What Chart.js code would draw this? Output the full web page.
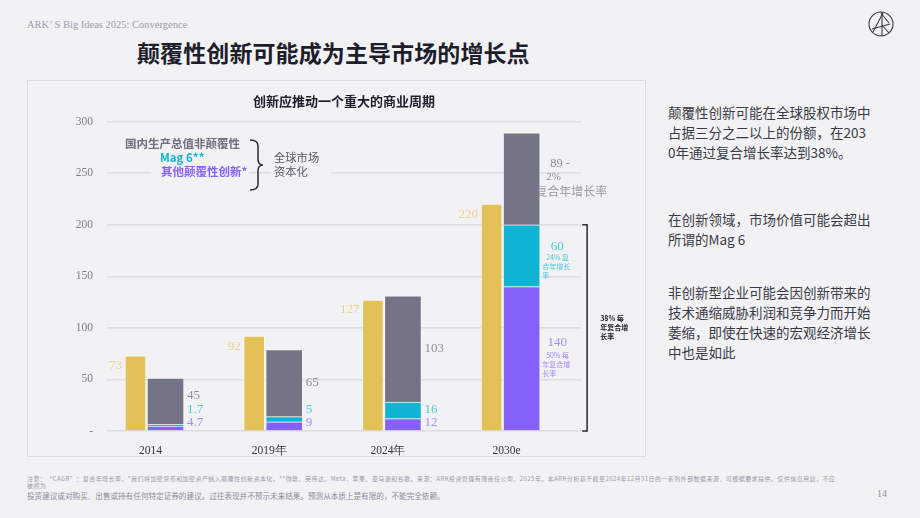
<!DOCTYPE html>
<html>
<head>
<meta charset="utf-8">
<script src="https://cdn.jsdelivr.net/npm/chart.js@4.4.1/dist/chart.umd.min.js"></script>
<style>
  body { margin: 0; width: 920px; height: 518px; background: #f2f2f5; position: relative; overflow: hidden;
         font-family: "Noto Sans CJK SC", "Noto Sans", sans-serif; }
  .abs { position: absolute; white-space: nowrap; }
  #hdr { left: 27px; top: 19px; font: 10.5px "Liberation Serif", serif; color: #9c9ca8; }
  #title { left: 137px; top: 35px; font-size: 23px; font-weight: 700; color: #1d1d2b; letter-spacing: 0.1px; }
  #panel { left: 27px; top: 80px; width: 617px; height: 375px; border: 1px solid #dcdce1; }
  #wrap { left: 27px; top: 80px; width: 618px; height: 376px; }
  .side { left: 668px; font-size: 13.5px; line-height: 20px; color: #3a3a46; }
  #note1 { left: 27px; top: 475px; font-size: 6px; line-height: 7px; letter-spacing: 0.44px; color: #9a9aa6; }
  #note2 { left: 27px; top: 490px; font-size: 7.6px; color: #8c8c98; }
  #page { left: 877px; top: 488px; font: 10px "Liberation Serif", serif; color: #8e8e9c; }
</style>
</head>
<body>
<div class="abs" id="hdr">ARK’ S Big Ideas 2025: Convergence</div>
<div class="abs" id="title">颠覆性创新可能成为主导市场的增长点</div>
<svg class="abs" style="left:868px;top:11px" width="26" height="26" viewBox="0 0 26 26">
  <g fill="none" stroke="#3a3a46" stroke-width="1.1">
    <circle cx="13" cy="13" r="12"/>
    <line x1="14" y1="1" x2="14" y2="25"/>
    <line x1="5" y1="21" x2="15" y2="2"/>
    <line x1="13" y1="2" x2="21" y2="12"/>
    <line x1="4" y1="18" x2="22" y2="13"/>
    <line x1="14" y1="14" x2="21" y2="22"/>
  </g>
</svg>
<div class="abs" id="panel"></div>
<div class="abs" id="wrap"><canvas id="chart" width="618" height="376"></canvas></div>

<div class="abs side" style="top:102px">颠覆性创新可能在全球股权市场中<br>占据三分之二以上的份额，在203<br>0年通过复合增长率达到38%。</div>
<div class="abs side" style="top:209px">在创新领域，市场价值可能会超出<br>所谓的Mag 6</div>
<div class="abs side" style="top:282px">非创新型企业可能会因创新带来的<br>技术通缩威胁利润和竞争力而开始<br>萎缩，即使在快速的宏观经济增长<br>中也是如此</div>

<div class="abs" id="note1">注意：“CAGR”：复合年增长率。*我们将加密货币和加密资产纳入颠覆性创新资本化。**微软、英伟达、Meta、苹果、亚马逊和谷歌。来源：ARK投资管理有限责任公司，2025年。本ARK分析基于截至2024年12月31日的一系列外部数据来源，可根据要求提供。仅供信息用途，不应<br>被视为</div>
<div class="abs" id="note2">投资建议或对购买、出售或持有任何特定证券的建议。过往表现并不预示未来结果。预测从本质上是有限的，不能完全依赖。</div>
<div class="abs" id="page">14</div>

<script>
// 数据（万亿美元）
const years = ['2014', '2019年', '2024年', '2030e'];
const gdp = [73, 92, 127, 220];
const otherDisruptive = [4.7, 9, 12, 140];
const mag6 = [1.7, 5, 16, 60];
const nonDisruptive = [45, 65, 103, 89];
const yTicks = [0, 50, 100, 150, 200, 250, 300];

const GOLD = '#e2c256', GREY = '#737586', CYAN = '#10b4d3', PURPLE = '#8662fc';
const SERIF = '"Liberation Serif", serif';
const CJK = '"Noto Sans CJK SC", sans-serif';
const EDGE = 'rgba(255,255,255,0.5)';

const pts = arr => arr.map((v, i) => ({ x: i, y: v }));

// 标注、图例和括号
const annotations = {
  id: 'annotations',
  beforeDatasetsDraw(chart) {
    const ctx = chart.ctx;
    ctx.save();
    // 图例（遮住网格线）
    ctx.fillStyle = '#f2f2f5';
    ctx.fillRect(124, 54, 98, 46);
    ctx.fillRect(244, 70, 60, 30);
    ctx.textBaseline = 'middle';
    ctx.font = 'bold 11.5px ' + CJK;
    ctx.fillStyle = '#6e6e7e';
    ctx.fillText('国内生产总值非颠覆性', 98, 64);
    ctx.fillStyle = CYAN;
    ctx.fillText('Mag 6**', 133, 78);
    ctx.fillStyle = PURPLE;
    ctx.fillText('其他颠覆性创新*', 134, 92);
    ctx.font = '11.3px ' + CJK;
    ctx.fillStyle = '#555566';
    ctx.fillText('全球市场', 247, 78);
    ctx.fillText('资本化', 247, 92);
    // 大括号
    ctx.strokeStyle = '#2a2a40';
    ctx.lineWidth = 1.5;
    ctx.beginPath();
    ctx.moveTo(223, 60);
    ctx.quadraticCurveTo(231, 60, 231, 66);
    ctx.lineTo(231, 79);
    ctx.quadraticCurveTo(231, 85, 236, 85);
    ctx.quadraticCurveTo(231, 85, 231, 91);
    ctx.lineTo(231, 104);
    ctx.quadraticCurveTo(231, 110, 223, 110);
    ctx.stroke();

    // 2030e 非颠覆性标注（被柱子部分遮住）
    const bar = chart.getDatasetMeta(3).data[3];
    const right = bar.x + bar.width / 2;
    const y = chart.scales.y;
    const mid = y.getPixelForValue(otherDisruptive[3] + mag6[3] + nonDisruptive[3] / 2);
    ctx.fillStyle = '#8e8e9a';
    ctx.font = '12.5px ' + SERIF;
    ctx.fillText('89 -', right + 10, mid - 15);
    ctx.font = '11px ' + SERIF;
    ctx.fillText('2%', right + 6, mid - 2);
    ctx.font = '12px ' + CJK;
    ctx.fillStyle = '#9a9aa6';
    ctx.fillText('复合年增长率', right - 5, mid + 13);
    ctx.restore();
  },
  afterDatasetsDraw(chart) {
    const ctx = chart.ctx;
    const y = chart.scales.y;
    const base = y.getPixelForValue(0);
    ctx.save();
    ctx.textBaseline = 'middle';
    for (let i = 0; i < years.length; i++) {
      const g = chart.getDatasetMeta(0).data[i];
      const gLeft = g.x - g.width / 2;
      ctx.font = '13px ' + SERIF;
      ctx.fillStyle = '#ebd38e';
      ctx.textAlign = 'right';
      ctx.fillText(String(gdp[i]), gLeft - 3, y.getPixelForValue(gdp[i]) + 10);

      const s = chart.getDatasetMeta(1).data[i];
      const right = s.x + s.width / 2;
      ctx.textAlign = 'left';
      const pMid = y.getPixelForValue(otherDisruptive[i] / 2);
      const cMid = y.getPixelForValue(otherDisruptive[i] + mag6[i] / 2);
      const nMid = y.getPixelForValue(otherDisruptive[i] + mag6[i] + nonDisruptive[i] / 2);
      if (i < 3) {
        const py = Math.min(pMid, base - 8);
        const cy = Math.min(cMid, py - 13);
        const ny = Math.min(nMid, cy - 14);
        ctx.fillStyle = '#a48cf9';
        ctx.fillText(String(otherDisruptive[i]), right + 3, py);
        ctx.fillStyle = '#4fc6de';
        ctx.fillText(String(mag6[i]), right + 3, cy);
        ctx.fillStyle = '#8e8e9a';
        ctx.fillText(String(nonDisruptive[i]), right + 3, ny);
      } else {
        ctx.textAlign = 'center';
        ctx.fillStyle = '#4fc6de';
        ctx.fillText(String(mag6[i]), right + 17, cMid - 9);
        ctx.fillStyle = '#a48cf9';
        ctx.fillText(String(otherDisruptive[i]), right + 17, pMid - 16);
        ctx.textAlign = 'left';
        ctx.font = '7px ' + CJK;
        ctx.fillStyle = '#4fc6de';
        ctx.fillText('24% 复', right + 6, cMid + 2);
        ctx.fillText('合年增长', right + 2, cMid + 11);
        ctx.fillText('率', right + 2, cMid + 20);
        ctx.fillStyle = '#a48cf9';
        ctx.fillText('50% 每', right + 6, pMid - 3);
        ctx.fillText('年复合增', right + 2, pMid + 6);
        ctx.fillText('长率', right + 2, pMid + 15);

        // 38% 括号
        const top = y.getPixelForValue(otherDisruptive[i] + mag6[i]);
        const bx = right + 47;
        ctx.strokeStyle = '#2a2a3e';
        ctx.lineWidth = 1.5;
        ctx.beginPath();
        ctx.moveTo(bx - 5, top);
        ctx.lineTo(bx, top);
        ctx.lineTo(bx, base);
        ctx.lineTo(bx - 5, base);
        ctx.stroke();
        const bm = (top + base) / 2;
        ctx.font = 'bold 7px ' + CJK;
        ctx.fillStyle = '#22222e';
        ctx.fillText('38% 每', bx + 13, bm - 10);
        ctx.fillText('年复合增', bx + 13, bm - 1);
        ctx.fillText('长率', bx + 13, bm + 8);
      }
    }
    ctx.restore();
  }
};

const capBar = { stack: 'cap', xAxisID: 'x2', barThickness: 37, grouped: false, borderColor: EDGE, borderWidth: 1 };

new Chart(document.getElementById('chart'), {
  type: 'bar',
  data: {
    datasets: [
      { label: '国内生产总值', data: pts(gdp), backgroundColor: GOLD, stack: 'gdp', xAxisID: 'x',
        barThickness: 21, grouped: false, borderColor: EDGE, borderWidth: 1 },
      { label: '其他颠覆性创新*', data: pts(otherDisruptive), backgroundColor: PURPLE, ...capBar },
      { label: 'Mag 6**', data: pts(mag6), backgroundColor: CYAN, ...capBar },
      { label: '非颠覆性', data: pts(nonDisruptive), backgroundColor: GREY, ...capBar }
    ]
  },
  options: {
    responsive: false,
    animation: false,
    layout: { padding: { left: 0, right: 64, top: 0, bottom: 0 } },
    plugins: {
      legend: { display: false },
      tooltip: { enabled: false },
      title: {
        display: true,
        fullSize: false,
        text: '创新应推动一个重大的商业周期',
        color: '#1d1d2b',
        font: { family: CJK, size: 13, weight: 'bold' },
        padding: { top: 13, bottom: 13 }
      }
    },
    scales: {
      x: {
        type: 'linear',
        offset: false,
        min: -0.24,
        max: 3.753,
        grid: { display: false },
        border: { display: false },
        afterBuildTicks: axis => { axis.ticks = years.map((_, i) => ({ value: i })); },
        afterFit: axis => { axis.height = 25; },
        ticks: {
          callback: v => years[v],
          labelOffset: 15,
          padding: 5,
          maxRotation: 0,
          color: '#333344',
          font: { family: SERIF, size: 11.5 }
        }
      },
      x2: {
        type: 'linear',
        display: false,
        offset: false,
        min: -0.493,
        max: 3.5
      },
      y: {
        stacked: true,
        min: 0,
        max: 300,
        afterBuildTicks: axis => { axis.ticks = yTicks.map(v => ({ value: v })); },
        afterFit: axis => { axis.width = 80; },
        grid: { color: '#dcdce2', lineWidth: 1.5, drawTicks: false },
        border: { display: false },
        ticks: {
          callback: v => (v === 0 ? '-' : v),
          padding: 14,
          color: '#7c7c8c',
          font: { family: SERIF, size: 11.5 }
        }
      }
    }
  },
  plugins: [annotations]
});
</script>
</body>
</html>
